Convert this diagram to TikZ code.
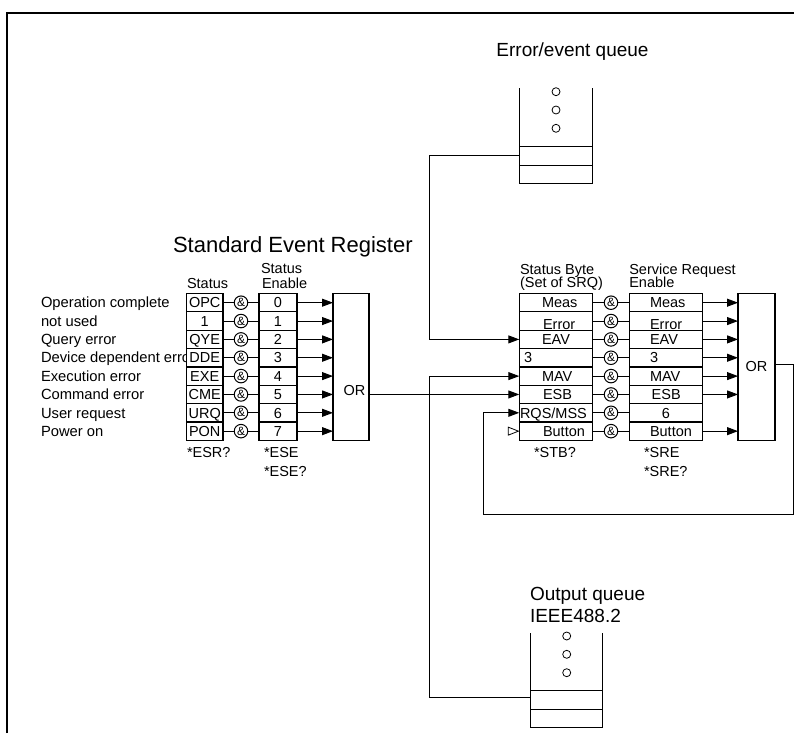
\documentclass[tikz,border=0pt]{standalone}
\usepackage{fontspec}
\setmainfont{Liberation Sans}
\usetikzlibrary{arrows.meta,calc}
\begin{document}
\begin{tikzpicture}[x=1pt,y=-1pt,
  every node/.style={inner sep=0pt, outer sep=0pt},
  lbl/.style={font=\fontsize{14.5}{15}\selectfont, anchor=base west},
  lblc/.style={font=\fontsize{14.5}{15}\selectfont, anchor=base},
  side/.style={font=\fontsize{14.75}{15}\selectfont, anchor=base west},
  cell/.style={draw, fill=white, line width=1.2pt, minimum height=18.35pt,
    font=\fontsize{14.5}{15}\selectfont, text height=10.4pt, text depth=0pt},
  andgate/.style={draw, fill=white, circle, minimum size=13.5pt, line width=1pt,
    font=\fontsize{12}{12}\selectfont},
  orbox/.style={draw, line width=1.2pt, minimum width=36pt, minimum height=146.8pt,
    font=\fontsize{14.5}{15}\selectfont},
  wire/.style={line width=1pt},
  arr/.style={wire, -{Triangle[length=11pt,width=8pt]}},
  qdot/.style={draw, circle, minimum size=8pt, line width=0.8pt},
  qcell/.style={draw, line width=1pt},
  big/.style={font=\fontsize{22}{24}\selectfont, anchor=base west},
  qtitle/.style={font=\fontsize{19}{21.7}\selectfont},
]
\useasboundingbox (0,0) rectangle (794,733);
% frame
\draw[line width=2pt] (6.7,733) -- (6.7,12.7) -- (794,12.7);

% ---------- Standard Event Register ----------
\node[big] (ttl) at (173,252) {Standard Event Register};
\node[lbl] (h1) at (187,288.5) {Status};
\node[lbl] (h2a) at (261,273.5) {Status};
\node[lbl] (h2b) at (262,288.5) {Enable};

\foreach \s/\e/\l [count=\i from 0] in {OPC/0/Operation complete, 1/1/not used, QYE/2/Query error, DDE/3/Device dependent erro, EXE/4/Execution error, CME/5/Command error, URQ/6/User request, PON/7/Power on} {
  \pgfmathsetmacro\yy{302.7+18.35*\i}
  \node[side] (l\i) at (41,\yy+5.2) {\l};
  \node[cell, minimum width=36.5pt] (s\i) at (204.75,\yy) {\s};
  \node[andgate] (a\i) at (241,\yy) {\&};
  \node[cell, minimum width=38pt] (e\i) at (278,\yy) {\e};
  \draw[wire] (s\i) -- (a\i) -- (e\i);
}
\node[orbox] (orL) at (351,366.9) {};
\node[lblc] (orLt) at (354.5,395) {OR};
\foreach \i in {0,...,7} {
  \draw[arr] (e\i.east) -- (e\i.east -| orL.west);
}
\node[lbl] (esr) at (187,457.5) {*ESR?};
\node[lbl] (ese) at (264,457.5) {*ESE};
\node[lbl] (eseq) at (264,476) {*ESE?};

% ---------- Status Byte / Service Request Enable ----------
\node[lbl] (h3a) at (520,274) {Status Byte};
\node[lbl] (h3b) at (520,287.5) {(Set of SRQ)};
\node[lbl] (h4a) at (629.3,274) {Service Request};
\node[lbl] (h4b) at (629.3,287.5) {Enable};

\foreach \i in {0,...,7} {
  \pgfmathsetmacro\yy{302.7+18.35*\i}
  \node[cell, minimum width=73.5pt] (sb\i) at (556,\yy) {};
  \node[andgate] (b\i) at (611,\yy) {\&};
  \node[cell, minimum width=73.5pt] (se\i) at (666,\yy) {};
  \draw[wire] (sb\i) -- (b\i) -- (se\i);
}
% texts of the status byte
\node[lbl] (tsb0) at (542,307.9) {Meas};
\node[lbl] (tsb1) at (543,329) {Error};
\node[lbl] (tsb2) at (542,344.6) {EAV};
\node[lbl] (tsb3) at (524,362.9) {3};
\node[lbl] (tsb4) at (542,381.3) {MAV};
\node[lbl] (tsb5) at (543,399.6) {ESB};
\node[lbl] (tsb6) at (520,418) {RQS/MSS};
\node[lbl] (tsb7) at (543,436.3) {Button};
% texts of the enable register
\node[lbl] (tse0) at (650,307.9) {Meas};
\node[lbl] (tse1) at (650,329) {Error};
\node[lbl] (tse2) at (650,344.6) {EAV};
\node[lbl] (tse3) at (650,362.9) {3};
\node[lbl] (tse4) at (650,381.3) {MAV};
\node[lbl] (tse5) at (651.7,399.6) {ESB};
\node[lblc] (tse6) at (666,418) {6};
\node[lbl] (tse7) at (650,436.3) {Button};

\node[orbox, minimum width=37pt] (orR) at (756.5,366.9) {OR};
\foreach \i in {0,1,2,3,4,5,7} {
  \draw[arr] (se\i.east) -- (se\i.east -| orR.west);
}
\node[lbl] (stb) at (534,457.5) {*STB?};
\node[lbl] (sre) at (644,457.5) {*SRE};
\node[lbl] (sreq) at (644,476) {*SRE?};

% open triangle at Button
\draw[line width=0.8pt] ([xshift=-11pt,yshift=4pt]sb7.west) -- ([xshift=-0.8pt]sb7.west)
  -- ([xshift=-11pt,yshift=-4pt]sb7.west) -- cycle;

% ESB from standard event OR
\draw[arr] (orL.east |- sb5.west) -- (sb5.west);

% feedback loop of the service request OR
\coordinate (orRo) at ([yshift=2pt]orR.east);
\coordinate (fbR) at (793,514);
\coordinate (fbL) at (483,514);
\draw[arr] (orRo) -| (fbR) -- (fbL) |- (sb6.west);

% ---------- Error/event queue ----------
\node[qtitle, anchor=base] (eqt) at (572.5,57) {Error/event queue};
\node[qcell, minimum width=73.4pt, minimum height=18.3pt] (eqA) at (556,155.85) {};
\node[qcell, minimum width=73.4pt, minimum height=18.3pt] (eqB) at (556,174.15) {};
\draw[wire] (eqA.north west) -- ++(0,-58.4);
\draw[wire] (eqA.north east) -- ++(0,-58.4);
\node[qdot] (ed1) at (556,91.7) {};
\node[qdot] (ed2) at (556,110) {};
\node[qdot] (ed3) at (556,128.3) {};

% ---------- Output queue ----------
\node[qtitle, anchor=base west] (oqt1) at (530,600.5) {Output queue};
\node[qtitle, anchor=base west] (oqt2) at (530,622.5) {IEEE488.2};
\node[qcell, minimum width=72.7pt, minimum height=18.6pt] (oqA) at (566.35,700) {};
\node[qcell, minimum width=72.7pt, minimum height=18.4pt] (oqB) at (566.35,718.5) {};
\draw[wire] (oqA.north west) -- ++(0,-58);
\draw[wire] (oqA.north east) -- ++(0,-58);
\node[qdot] (od1) at (566.7,636) {};
\node[qdot] (od2) at (566.7,654.3) {};
\node[qdot] (od3) at (566.7,672.7) {};

% ---------- queue connectors ----------
\coordinate (jx) at (429,0);
\draw[arr] (eqA.west) -- (eqA.west -| jx) -- (sb2.west -| jx) -- (sb2.west);
\coordinate (oqc) at ([yshift=2.5pt]oqA.west);
\draw[arr] (oqc) -- (oqc -| jx) -- (sb4.west -| jx) -- (sb4.west);
\end{tikzpicture}
\end{document}
